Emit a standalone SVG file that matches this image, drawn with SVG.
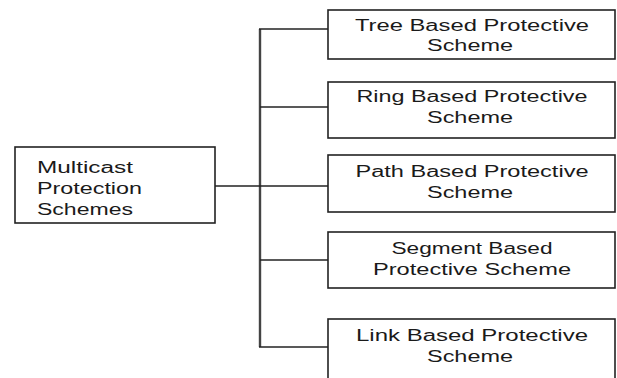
<svg xmlns="http://www.w3.org/2000/svg" width="617" height="378" viewBox="0 0 617 378">
<style>
.box{fill:#fff;stroke:#222;stroke-width:1.6}
.t{font-family:"Liberation Sans",Arial,sans-serif;font-size:16px;fill:#1a1a1a}
.c{text-anchor:middle}
.ln{stroke:#222;stroke-width:1.6;fill:none}
.trunk{stroke:#444;stroke-width:2.4;fill:none}
</style>
<rect width="617" height="378" fill="#fff"/>
<g id="connectors">
<line class="trunk" x1="260" y1="29" x2="260" y2="347"/>
<line class="ln" x1="215" y1="186" x2="328" y2="186"/>
<line class="ln" x1="259" y1="29" x2="328" y2="29"/>
<line class="ln" x1="260" y1="107" x2="328" y2="107"/>
<line class="ln" x1="260" y1="260" x2="328" y2="260"/>
<line class="ln" x1="259" y1="347" x2="328" y2="347"/>
</g>
<g id="root">
<rect class="box" x="15" y="147" width="200" height="76"/>
<text class="t" x="37" y="173" textLength="96" lengthAdjust="spacingAndGlyphs">Multicast</text>
<text class="t" x="37" y="194" textLength="105" lengthAdjust="spacingAndGlyphs">Protection</text>
<text class="t" x="37" y="215" textLength="96" lengthAdjust="spacingAndGlyphs">Schemes</text>
</g>
<g id="tree">
<rect class="box" x="328" y="10" width="287" height="49"/>
<text class="t c" x="472" y="31" textLength="234" lengthAdjust="spacingAndGlyphs">Tree Based Protective</text>
<text class="t c" x="470" y="51" textLength="86" lengthAdjust="spacingAndGlyphs">Scheme</text>
</g>
<g id="ring">
<rect class="box" x="328" y="82" width="287" height="56"/>
<text class="t c" x="472" y="102" textLength="231" lengthAdjust="spacingAndGlyphs">Ring Based Protective</text>
<text class="t c" x="470" y="123" textLength="86" lengthAdjust="spacingAndGlyphs">Scheme</text>
</g>
<g id="path">
<rect class="box" x="328" y="155" width="287" height="57"/>
<text class="t c" x="472" y="177" textLength="233" lengthAdjust="spacingAndGlyphs">Path Based Protective</text>
<text class="t c" x="470" y="198" textLength="86" lengthAdjust="spacingAndGlyphs">Scheme</text>
</g>
<g id="segment">
<rect class="box" x="328" y="232" width="287" height="56"/>
<text class="t c" x="472" y="254" textLength="161" lengthAdjust="spacingAndGlyphs">Segment Based</text>
<text class="t c" x="472" y="275" textLength="198" lengthAdjust="spacingAndGlyphs">Protective Scheme</text>
</g>
<g id="link">
<rect class="box" x="328" y="319" width="287" height="70"/>
<text class="t c" x="472" y="341" textLength="232" lengthAdjust="spacingAndGlyphs">Link Based Protective</text>
<text class="t c" x="470" y="362" textLength="86" lengthAdjust="spacingAndGlyphs">Scheme</text>
</g>
</svg>
